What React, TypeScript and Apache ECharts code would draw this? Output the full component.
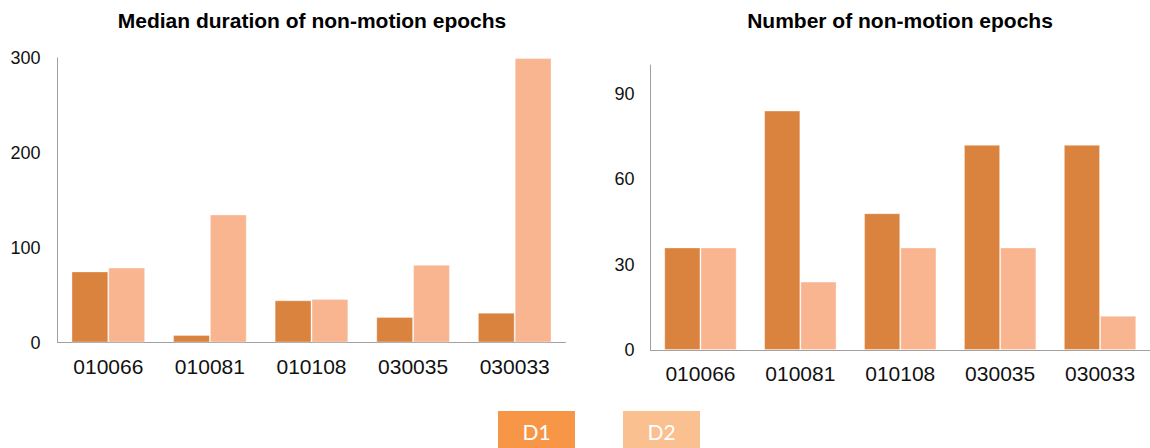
import React, { useEffect, useRef } from "react";
import * as echarts from "echarts";

const categories = ["010066", "010081", "010108", "030035", "030033"];
const durationD1 = [75, 8, 44.5, 27, 31.5];
const durationD2 = [79, 135, 46, 82, 300];
const countD1 = [36, 84, 48, 72, 72];
const countD2 = [36, 24, 36, 36, 12];
const durationTicks = { min: 0, max: 300, interval: 100 };
const countTicks = { min: 0, max: 100, interval: 30 };
const seriesNames = ["D1", "D2"];
const titles = ["Median duration of non-motion epochs", "Number of non-motion epochs"];

const C_D1 = "#DA833E";
const C_D2 = "#F8B590";
const L_D1 = "#F79646";
const L_D2 = "#FAC090";
const FONT = "'Liberation Sans', Arial, sans-serif";

export default function App() {
  const ref = useRef<HTMLDivElement>(null);
  useEffect(() => {
    if (!ref.current) return;
    const chart = echarts.init(ref.current, undefined, { renderer: "svg" });
    const grids = [
      { left: 57.5, top: 58, width: 508, height: 284.5 },
      { left: 650.5, top: 65, width: 508, height: 285 },
    ];
    const xAxis = grids.map((_, i) => ({
      type: "category",
      gridIndex: i,
      data: categories,
      axisLine: { lineStyle: { color: "#a0a0a0", width: 1 } },
      axisTick: { show: false },
      axisLabel: { color: "#111", fontSize: 21, fontFamily: FONT, margin: 13 },
    }));
    const yAxis = [durationTicks, countTicks].map((t, i) => ({
      type: "value",
      gridIndex: i,
      min: t.min,
      max: t.max,
      interval: t.interval,
      axisLine: { show: true, lineStyle: { color: "#a0a0a0", width: 1 } },
      axisTick: { show: false },
      splitLine: { show: false },
      axisLabel: {
        color: "#111",
        fontSize: 18,
        fontFamily: FONT,
        margin: i === 0 ? 17 : 16,
        showMaxLabel: i === 0,
      },
    }));
    const mk = (name: string, data: number[], idx: number, color: string) => ({
      type: "bar",
      name,
      xAxisIndex: idx,
      yAxisIndex: idx,
      data,
      barGap: "0%",
      barCategoryGap: "27.5%",
      itemStyle: { color, borderColor: "rgba(255,255,255,0.35)", borderWidth: 1 },
    });
    const series = [
      mk(seriesNames[0], durationD1, 0, C_D1),
      mk(seriesNames[1], durationD2, 0, C_D2),
      mk(seriesNames[0], countD1, 1, C_D1),
      mk(seriesNames[1], countD2, 1, C_D2),
    ];
    const titleStyle = { fill: "#000", fontSize: 21, fontWeight: "bold", fontFamily: FONT, align: "center", verticalAlign: "middle" };
    const legendColors = [L_D1, L_D2];
    const legendX = [498, 623];
    const graphic: any[] = [
      { type: "text", x: 312, y: 20, style: { ...titleStyle, text: titles[0] } },
      { type: "text", x: 900, y: 20, style: { ...titleStyle, text: titles[1] } },
    ];
    seriesNames.forEach((n, i) => {
      graphic.push({ type: "rect", shape: { x: legendX[i], y: 411, width: 77, height: 40 }, style: { fill: legendColors[i] } });
      graphic.push({
        type: "text",
        x: legendX[i] + 38.5,
        y: 431,
        style: { text: n, fill: "#fff", fontSize: 21, fontFamily: "Lato, 'Open Sans', sans-serif", align: "center", verticalAlign: "middle" },
      });
    });
    chart.setOption({
      animation: false,
      backgroundColor: "#fff",
      grid: grids,
      xAxis,
      yAxis,
      series,
      graphic,
    });
    return () => chart.dispose();
  }, []);
  return <div ref={ref} style={{ position: "fixed", left: 0, top: 0, width: 1150, height: 448 }} />;
}
